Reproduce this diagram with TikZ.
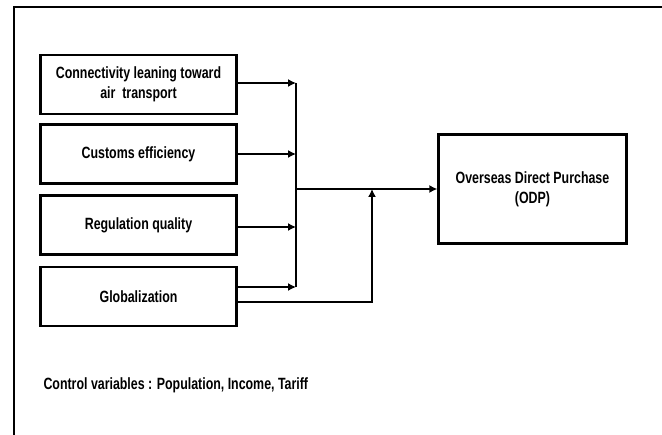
\documentclass[tikz,border=0pt]{standalone}
\usepackage{fontspec}
\setmainfont{Liberation Sans}[FakeStretch=0.76]
\usetikzlibrary{arrows.meta}

\begin{document}
\begin{tikzpicture}[x=1pt,y=-1pt,
  >={Latex[length=8pt,width=8pt]},
  varbox/.style={draw,line width=2.4pt,minimum width=196pt,minimum height=59pt,
    align=center,font=\fontsize{16.3}{20}\selectfont\bfseries},
  link/.style={line width=1.4pt}]
\useasboundingbox (0,0) rectangle (662,435);
\clip (0,0) rectangle (662,435);

% frame
\draw[line width=1.6pt] (14,440) -- (14,7) -- (670,7);

% variables
\node[varbox] (conn) at (138.5,84.5) {Connectivity leaning toward\\air\ \ transport};
\node[varbox] (cust) at (138.5,154) {Customs efficiency};
\node[varbox] (regq) at (138.5,225) {Regulation quality};
\node[varbox] (glob) at (138.5,296.5) {Globalization};

\node[draw,line width=2.4pt,minimum width=188pt,minimum height=109pt,align=center,
  font=\fontsize{16.3}{20}\selectfont\bfseries] (odp) at (532.5,189) {Overseas Direct Purchase\\(ODP)};

\coordinate (bus) at (296,189);
\coordinate (ctl) at (372,189);

\draw[link,->] ([yshift=1.5pt]conn.east) -- ([yshift=1.5pt]conn.east -| bus);
\draw[link,->] (cust.east) -- (cust.east -| bus);
\draw[link,->] ([yshift=-2pt]regq.east) -- ([yshift=-2pt]regq.east -| bus);
\draw[link,->] ([yshift=9.5pt]glob.east) -- ([yshift=9.5pt]glob.east -| bus);
\draw[link] ([yshift=1.5pt]conn.east -| bus) -- ([yshift=9.5pt]glob.east -| bus);

\draw[link,->] (bus) -- (odp.west);
\draw[link,->] ([yshift=-5.5pt]glob.east) -| (ctl);

\node[anchor=west,font=\fontsize{16.3}{19}\selectfont\bfseries] (ctrl) at (40,385)
  {Control variables : Population, Income, Tariff};

\end{tikzpicture}
\end{document}
